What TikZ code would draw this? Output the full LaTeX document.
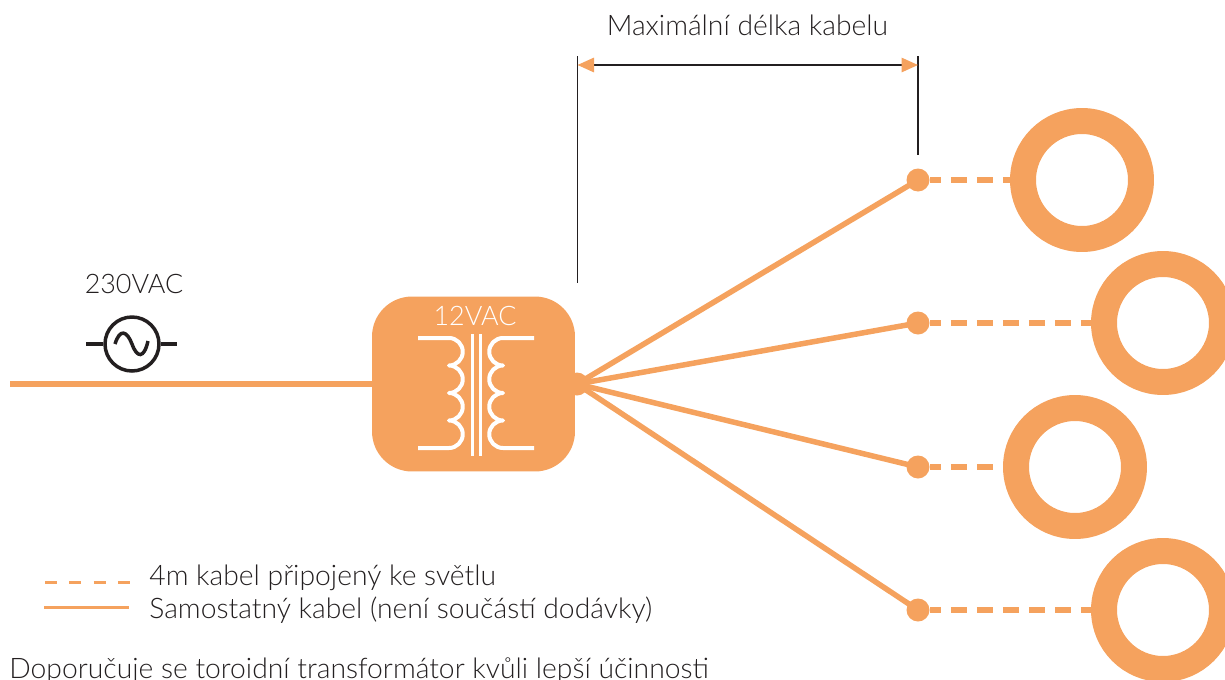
\documentclass[tikz,border=0pt]{standalone}
\usepackage{fontspec}
\setmainfont[UprightFont=* Light]{Lato}
\usetikzlibrary{arrows.meta,positioning}
\definecolor{cableorange}{RGB}{245,162,94}
\definecolor{inkblack}{RGB}{35,31,32}

\begin{document}
\begin{tikzpicture}[
    x=0.02cm, y=-0.02cm,
    label/.style={font=\fontsize{16.1}{19}\selectfont, text=inkblack, inner sep=0pt},
    cable/.style={draw=cableorange, line width=0.11cm},
    cabledash/.style={cable, dash pattern=on 0.32cm off 0.2cm, dash phase=0.1cm},
    joint/.style={circle, fill=cableorange, inner sep=0pt, minimum size=0.46cm},
    lamp/.style={circle, draw=cableorange, line width=0.52cm, inner sep=0pt, minimum size=2.36cm},
    dimline/.style={draw=inkblack, line width=0.03cm},
    winding/.style={draw=white, line width=0.08cm, line join=round},
    dimarrow/.style={dimline, {Triangle[color=cableorange, length=0.33cm, width=0.29cm]}-{Triangle[color=cableorange, length=0.33cm, width=0.29cm]}}
]
    \useasboundingbox (0,0) rectangle (1225,680);
    \clip (0,0) rectangle (1225,680);

    % Left: mains input
    \coordinate (mainsin) at (10,384);
    \node[label, font=\fontsize{15.3}{18}\selectfont] (mainslabel) at (134,284) {230VAC};
    \node[circle, draw=inkblack, line width=0.07cm, inner sep=0pt, minimum size=1.08cm] (acsource) at (132,344) {};
    \coordinate (acleft) at (86,344);
    \coordinate (acright) at (177,344);
    \draw[dimline, line width=0.07cm] (acleft) -- (acsource);
    \draw[dimline, line width=0.07cm] (acsource) -- (acright);
    \draw[inkblack, line width=0.07cm] (115,344) .. controls (120,328) and (127,331) .. (132,344) .. controls (137,358) and (144,359) .. (148,341);

    % Center: transformer
    \node[rectangle, fill=cableorange, rounded corners=0.8cm, minimum width=4.06cm, minimum height=3.5cm] (trafo) at (473.5,384) {};
    \node[font=\fontsize{15.3}{18}\selectfont, text=white, inner sep=0pt] (trafolabel) at (475,316) {12VAC};
    \draw[winding] (418,338) -- (449,338) arc (-90:90:13.75) arc (-90:90:13.75) arc (-90:90:13.75) arc (-90:90:13.75) -- (418,448);
    \draw[winding] (534,338) -- (503,338) arc (-90:-270:13.75) arc (-90:-270:13.75) arc (-90:-270:13.75) arc (-90:-270:13.75) -- (534,448);
    \draw[draw=white, line width=0.06cm] (472,334) -- (472,456);
    \draw[draw=white, line width=0.06cm] (480,334) -- (480,456);
    \node[joint] (hub) at (577,384) {};

    % Right: lamps
    \node[joint] (tapa) at (918,180) {};
    \node[joint] (tapb) at (918,323) {};
    \node[joint] (tapc) at (918,467) {};
    \node[joint] (tapd) at (918,610) {};
    \node[lamp] (lampa) at (1082,180) {};
    \node[lamp] (lampb) at (1163,323) {};
    \node[lamp] (lampc) at (1075,467) {};
    \node[lamp] (lampd) at (1163,610) {};

    % Cables
    \draw[cable] (mainsin) -- (trafo);
    \draw[cable] (hub.center) -- (tapa.center);
    \draw[cable] (hub.center) -- (tapb.center);
    \draw[cable] (hub.center) -- (tapc.center);
    \draw[cable] (hub.center) -- (tapd.center);
    \draw[cabledash] (tapa) -- (lampa);
    \draw[cabledash] (tapb) -- (lampb);
    \draw[cabledash] (tapc) -- (lampc);
    \draw[cabledash] (tapd) -- (lampd);

    % Top: cable length
    \node[label] (lengthlabel) at (747.5,25) {Maximální délka kabelu};
    \coordinate (limlefttop) at (577.5,56);
    \coordinate (limleftend) at (577.5,283);
    \coordinate (limrighttop) at (918,56);
    \coordinate (limrightend) at (918,155);
    \coordinate (dimleft) at (577.5,65);
    \coordinate (dimright) at (918,65);
    \draw[dimline] (limlefttop) -- (limleftend);
    \draw[dimline] (limrighttop) -- (limrightend);
    \draw[dimarrow] (dimleft) -- (dimright);

    % Bottom: legend
    \coordinate (keydasha) at (45,582);
    \coordinate (keydashb) at (130,582);
    \coordinate (keylinea) at (44,607);
    \coordinate (keylineb) at (129,607);
    \draw[draw=cableorange, line width=0.06cm, dash pattern=on 0.24cm off 0.246cm] (keydasha) -- (keydashb);
    \draw[draw=cableorange, line width=0.06cm] (keylinea) -- (keylineb);
    \node[label, anchor=west] (keydash) at (149,578) {4m kabel připojený ke světlu};
    \node[label, anchor=west] (keyline) at (149,610) {Samostatný kabel (není součástí dodávky)};
    \node[label, anchor=west] (advice) at (9,671) {Doporučuje se toroidní transformátor kvůli lepší účinnosti};
\end{tikzpicture}
\end{document}
